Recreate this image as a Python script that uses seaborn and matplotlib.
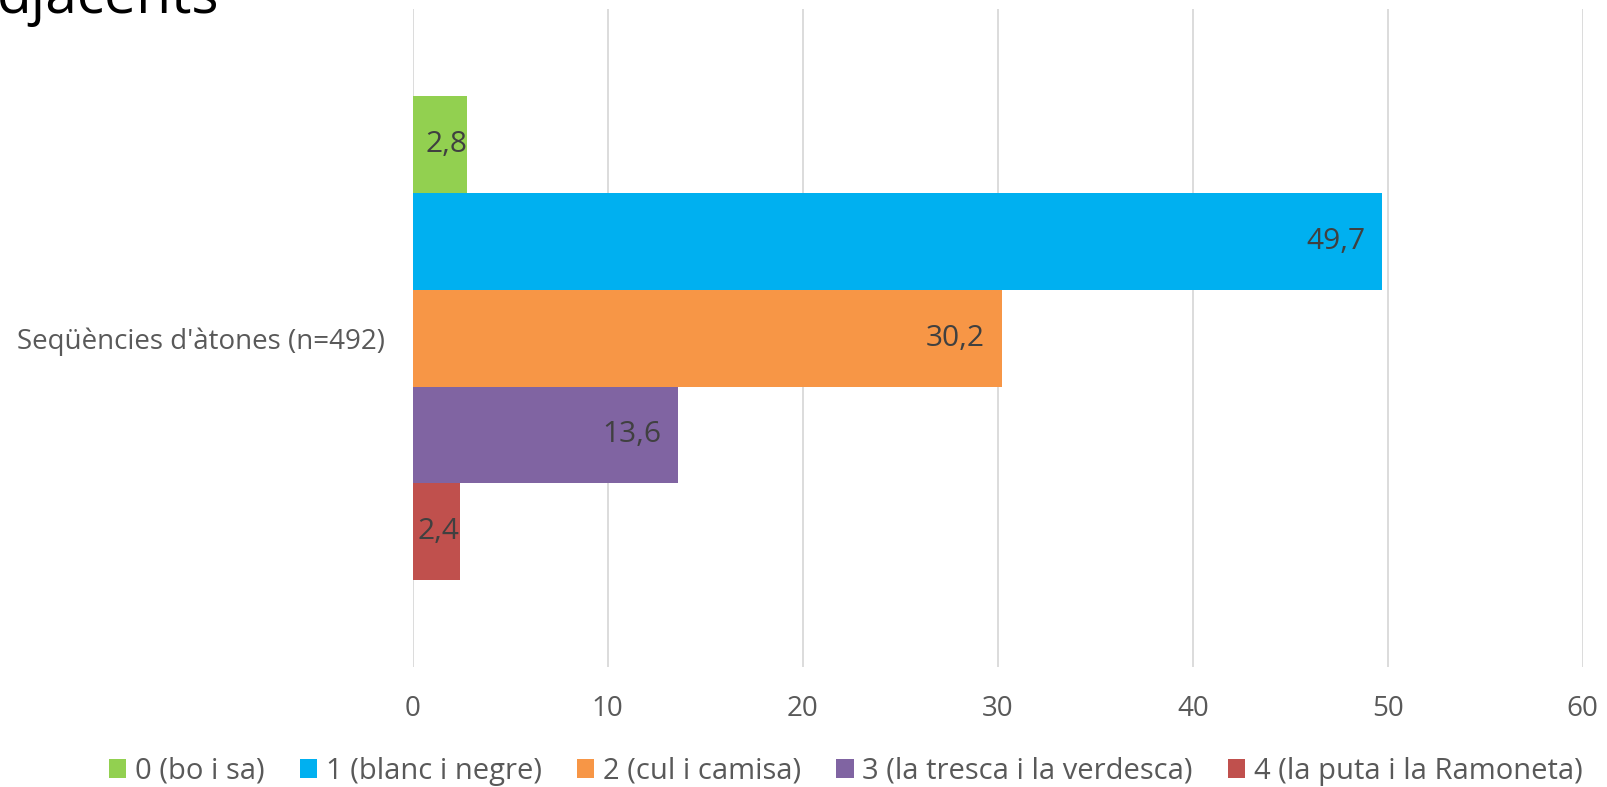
import pandas as pd
import matplotlib.pyplot as plt
import seaborn as sns

# data
category = ["Seqüències d'àtones (n=492)"]
series = ["0 (bo i sa)", "1 (blanc i negre)", "2 (cul i camisa)",
          "3 (la tresca i la verdesca)", "4 (la puta i la Ramoneta)"]
values = [2.8, 49.7, 30.2, 13.6, 2.4]
colors = ["#92D050", "#00B0F0", "#F79646", "#8064A2", "#C0504D"]
x_ticks = [0, 10, 20, 30, 40, 50, 60]

df = pd.DataFrame({
    "grup": category * len(series),
    "serie": series,
    "valor": values,
})

sns.set_theme(style="white")
plt.rcParams["font.family"] = ["Open Sans", "DejaVu Sans"]

fig = plt.figure(figsize=(16.08, 7.87), dpi=100)
ax = fig.add_axes([0.2567, 0.1525, 0.7276, 0.836])

sns.barplot(
    data=df, y="grup", x="valor", hue="serie", hue_order=series,
    palette=colors, orient="h", errorbar=None, saturation=1,
    width=0.737, linewidth=0, ax=ax,
)

ax.set_xlim(0, 60)
ax.set_xticks(x_ticks)
ax.set_xlabel("")
ax.set_ylabel("")
ax.grid(axis="x", color="#D9D9D9", linewidth=1.3)
ax.set_axisbelow(True)
for s in ax.spines.values():
    s.set_visible(False)
ax.tick_params(axis="x", colors="#595959", labelsize=20, length=0, pad=20)
ax.tick_params(axis="y", colors="#595959", labelsize=20, length=0, pad=20)

# data labels, inside end, decimal comma
for bar in ax.patches:
    w = bar.get_width()
    if w <= 0:
        continue
    yc = bar.get_y() + bar.get_height() / 2
    pad = -12 if w > 6 else 0
    ax.annotate(f"{w:.1f}".replace(".", ","), xy=(w, yc), xytext=(pad, 0),
                textcoords="offset points", ha="right", va="center",
                fontsize=21.5, color="#404040")

handles, labels = ax.get_legend_handles_labels()
ax.get_legend().remove()
fig.legend(handles, labels, loc="center", bbox_to_anchor=(0.526, 0.02),
           ncol=5, frameon=False, fontsize=21, labelcolor="#595959",
           handlelength=0.6, handleheight=0.6, handletextpad=0.3,
           columnspacing=1.2)

# title is cut off by the top edge in the reference
fig.text(-0.002, 0.984, "djacents", fontsize=41, color="black",
         ha="left", va="baseline")

fig.savefig("out.png", dpi=100)
